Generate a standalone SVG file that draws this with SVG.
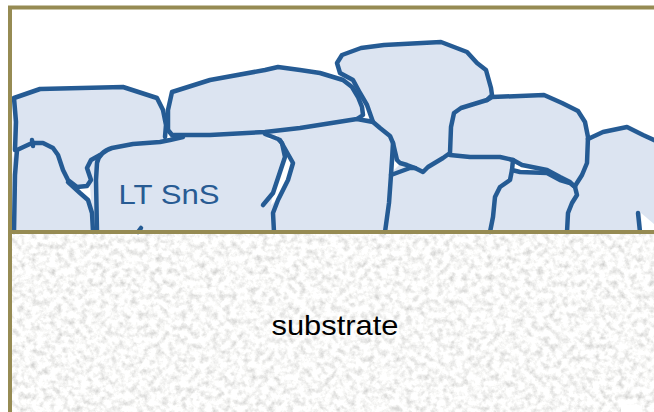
<svg xmlns="http://www.w3.org/2000/svg" width="654" height="412" viewBox="0 0 654 412">
  <style>
    .fill { fill: #dce4f1; stroke: none; }
    .gap { fill: #ffffff; stroke: none; }
    .edge { fill: none; stroke: #255b94; stroke-width: 4.5; stroke-linejoin: round; stroke-linecap: round; }
    .frame { fill: none; stroke: #968b53; stroke-width: 4; }
    .label { font-family: "Liberation Sans", Arial, sans-serif; font-size: 28px; }
  </style>
  <defs>
    <!-- speckled grey texture of the substrate block -->
    <filter id="grain" filterUnits="userSpaceOnUse" x="12" y="232" width="642" height="180">
      <feTurbulence type="fractalNoise" baseFrequency="0.16" numOctaves="4" seed="7" result="n"/>
      <feColorMatrix in="n" type="matrix" result="g"
        values="0.75 0 0 0 0.565
                0.75 0 0 0 0.565
                0.75 0 0 0 0.555
                0 0 0 0 1"/>
      <feComposite in="g" in2="SourceGraphic" operator="in"/>
    </filter>
  </defs>

  <rect x="0" y="0" width="654" height="412" fill="#ffffff"/>

  <!-- substrate -->
  <g id="substrate">
    <rect x="12" y="232" width="642" height="180" fill="#eeeeec"/>
    <rect x="12" y="232" width="642" height="180" fill="#eeeeec" filter="url(#grain)"/>
    <rect x="621" y="405" width="18" height="7" fill="#ffffff"/>
    <text class="label" x="271.5" y="335" fill="#000000" textLength="127" lengthAdjust="spacingAndGlyphs">substrate</text>
  </g>

  <!-- SnS film: grain body -->
  <g id="film">
    <path class="fill" d="M12,232 L13,98 L40,89 L123,87 L157,98 L163,110 L166,125 L168,110 L172,92 L210,80 L265,70 L278,67 L300,69 L320,73 L340,78 L339,70 L337,62 L342,55 L361,48 L384,45 L441,42 L467,52 L477,63 L486,70 L491,88 L492,97 L544,95 L562,103 L580,112 L585,123 L588,138 L603,132 L627,127 L643,135 L654,140 L654,232 Z"/>

    <!-- open voids between grains -->
    <g id="voids">
      <polygon class="gap" points="11,150 15,149 13,159"/>
      <polygon class="gap" points="163,138 168,133 171,139"/>
      <polygon class="gap" points="266,139 277,135 280,140"/>
      <polygon class="gap" points="285,152 292,163 288,180 278,198 271,205 273,193 283,165"/>
      <polygon class="gap" points="76,188 90,186 91,200"/>
      <polygon class="gap" points="365,102 372,118 363,118"/>
      <polygon class="gap" points="392,158 400,164 392,172"/>
      <polygon class="gap" points="513,163 520,166 547,170 513,172"/>
      <polygon class="gap" points="641,213 654,224 654,232 642,232"/>
    </g>

    <!-- grain boundaries -->
    <g id="grain-a">
      <path class="edge" d="M15,150 L16,122 L14,98 L40,89 L123,87 L157,98 L163,110 L166,125 L165,137"/>
    </g>
    <g id="grain-b">
      <path class="edge" d="M14,232 L15,175 L17,150 L32,143 L43,143 L53,148 L58,155 L63,170 L68,180 L77,187 L87,186 L91,180 L87,168 L91,160 L100,155"/>
      <path class="edge" d="M32,140 L33,146"/>
      <path class="edge" d="M68,182 L80,193 L88,200 L92,213 L93,232"/>
    </g>
    <g id="grain-d">
      <path class="edge" d="M97,232 L96,180 L97,163 Q99,152 112,148 L133,144 L160,142 L170,140 L183,137"/>
      <path class="edge" d="M265,134 L278,139 L282,143 L285,157 L273,193 L263,205"/>
      <path class="edge" d="M138,232 L141,228"/>
    </g>
    <g id="grain-e">
      <path class="edge" d="M172,135 L168,130 L168,110 L172,92 L210,80 L265,70 L278,67 L300,70 L320,73 L343,80 L352,87 L358,97 L362,107 L363,115 L357,119 L300,128 L265,132 L210,135 L172,135"/>
    </g>
    <g id="grain-f">
      <path class="edge" d="M280,140 L293,163 L288,180 L278,200 L273,213 L274,232"/>
      <path class="edge" d="M357,119 L373,122 L380,128 L390,136 L393,143 L392,160 L391,175 L389,203 L385,232"/>
    </g>
    <g id="grain-g">
      <path class="edge" d="M373,122 L367,105 L360,93 L353,80 L340,73 L337,63 L342,55 L361,48 L384,45 L441,42 L467,52 L477,63 L486,70 L491,88 L492,95 L487,100 L461,108 L454,113 L451,127 L450,153 L443,158 L428,167 L423,172 L415,168 L407,165 L400,163 L397,160 L393,143"/>
    </g>
    <g id="grain-i">
      <path class="edge" d="M391,175 L410,168 L415,168"/>
    </g>
    <g id="grain-h">
      <path class="edge" d="M487,100 L492,97 L544,95 L562,103 L578,111 L585,122 L588,137 L587,163 L582,175 L575,186"/>
      <path class="edge" d="M450,155 L470,157 L500,157 L513,160 L522,165 L547,170 L560,177 L570,182 L575,187"/>
    </g>
    <g id="grain-j">
      <path class="edge" d="M513,160 L512,170 L520,172 L547,173 L560,180 L570,183 L575,187 L577,195 L572,203 L568,213 L567,232"/>
      <path class="edge" d="M512,170 L510,180 L500,187 L495,197 L493,217 L490,232"/>
    </g>
    <g id="grain-k">
      <path class="edge" d="M588,139 L603,132 L627,127 L643,135 L656,141"/>
      <path class="edge" d="M638,213 L640,232"/>
    </g>

    <text class="label" x="118.5" y="204" fill="#285b93" textLength="101" lengthAdjust="spacingAndGlyphs">LT SnS</text>
  </g>

  <!-- frame -->
  <g id="frame">
    <path class="frame" d="M10,412 L10,7.5 L656,7.5"/>
    <path class="frame" d="M10,232 L656,232" stroke-width="3.5"/>
  </g>
</svg>
